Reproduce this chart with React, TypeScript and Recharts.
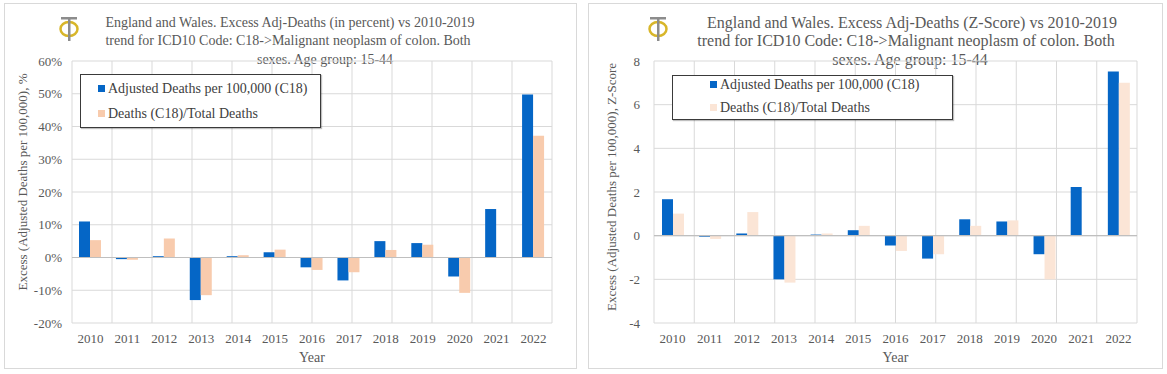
import React from "react";
import { BarChart, Bar, XAxis, YAxis, CartesianGrid, Legend, ReferenceLine } from "recharts";

const FONT = '"Liberation Serif", "DejaVu Serif", serif';
const TEXT = "#595959";

const years = ["2010", "2011", "2012", "2013", "2014", "2015", "2016", "2017", "2018", "2019", "2020", "2021", "2022"];
// excess in percent
const pctAdjusted = [11, -0.5, 0.4, -13, 0.4, 1.6, -3, -7, 5, 4.4, -5.8, 14.8, 49.8];
const pctRatio = [5.3, -0.7, 5.8, -11.5, 0.7, 2.4, -3.8, -4.5, 2.3, 3.9, -10.8, 0, 37.2];
// excess as z-score
const zAdjusted = [1.67, -0.05, 0.1, -2.0, 0.05, 0.25, -0.45, -1.05, 0.75, 0.65, -0.85, 2.23, 7.52];
const zRatio = [1.01, -0.15, 1.08, -2.15, 0.1, 0.45, -0.7, -0.85, 0.45, 0.7, -2.0, 0, 7.0];

const pctTicks = [-20, -10, 0, 10, 20, 30, 40, 50, 60];
const zTicks = [-4, -2, 0, 2, 4, 6, 8];

const seriesNames = ["Adjusted Deaths per 100,000 (C18)", "Deaths (C18)/Total Deaths"];
const BLUE = "#0566c6";

const gridTicks = Array.from({ length: years.length + 1 }, (_, i) => i);

function Logo({ x, y }: { x: number; y: number }) {
  return (
    <svg style={{ position: "absolute", left: x, top: y }} width={24} height={28}>
      <ellipse cx={11} cy={14} rx={8.5} ry={7} fill="none" stroke="#d8b62a" strokeWidth={2.5} />
      <rect x={3} y={2} width={16} height={2.5} fill="#8c8c8c" />
      <rect x={10} y={2} width={2.5} height={24} fill="#8c8c8c" />
    </svg>
  );
}

type PanelProps = {
  left: number;
  width: number;
  frameX: number;
  frameW: number;
  ml: number;
  mr: number;
  adjusted: number[];
  ratio: number[];
  ratioColor: string;
  ticks: number[];
  fmt: (v: number) => string;
  tickMargin: number;
  yTitle: string;
  yTitleX: number;
  yTitleY: number;
  titleLines: { text: string; cx: number; cy: number }[];
  titleSize: number;
  logoX: number;
  legendBox: { left: number; top: number; width: number; height: number };
  legendRows: number[];
  swatchX: number;
  barSize: number;
};

function Panel(p: PanelProps) {
  const rows = years.map((year, i) => ({ year, adjusted: p.adjusted[i], ratio: p.ratio[i] }));
  const colors = [BLUE, p.ratioColor];
  return (
    <div style={{ position: "absolute", left: p.left, top: 0, width: p.width, height: 374, fontFamily: FONT }}>
      <div
        style={{
          position: "absolute", left: p.frameX, top: 3, width: p.frameW, height: 366,
          border: "1px solid #d9d9d9", boxSizing: "border-box",
        }}
      />
      {p.titleLines.map((l) => (
        <div
          key={l.text}
          style={{
            position: "absolute", left: l.cx - 300, width: 600, top: l.cy - 10, lineHeight: "20px",
            textAlign: "center", whiteSpace: "nowrap", fontSize: p.titleSize, color: TEXT,
          }}
        >
          {l.text}
        </div>
      ))}
      <Logo x={p.logoX} y={15} />
      <div
        style={{
          position: "absolute", left: p.yTitleX, top: p.yTitleY, whiteSpace: "nowrap", fontSize: 13,
          color: TEXT, transform: "translate(-50%, -50%) rotate(-90deg)",
        }}
      >
        {p.yTitle}
      </div>
      <div style={{ position: "absolute", left: 0, top: 0 }}>
        <BarChart
          width={p.width}
          height={374}
          data={rows}
          margin={{ top: 61, right: p.mr, bottom: 0, left: p.ml }}
          barGap={0}
          barSize={p.barSize}
        >
          <CartesianGrid stroke="#d9d9d9" xAxisId="grid" />
          <XAxis
            dataKey="year"
            interval={0}
            tickLine={false}
            axisLine={false}
            tickSize={0}
            tickMargin={11}
            height={51}
            tick={{ fontSize: 13, fill: TEXT, fontFamily: FONT }}
            label={{ value: "Year", position: "insideBottom", offset: 12, fontSize: 14, fill: TEXT, fontFamily: FONT }}
          />
          <XAxis xAxisId="grid" type="number" domain={[0, years.length]} ticks={gridTicks} allowDataOverflow hide />
          <YAxis
            width={40}
            domain={[p.ticks[0], p.ticks[p.ticks.length - 1]]}
            ticks={p.ticks}
            interval={0}
            tickFormatter={p.fmt}
            tickLine={false}
            axisLine={false}
            tickSize={0}
            tickMargin={p.tickMargin}
            tick={{ fontSize: 13, fill: TEXT, fontFamily: FONT }}
          />
          <ReferenceLine y={0} stroke="#bfbfbf" strokeWidth={1.2} />
          <Legend
            layout="vertical"
            align="center"
            verticalAlign="middle"
            wrapperStyle={{ ...p.legendBox }}
            content={() => (
              <div
                style={{
                  position: "relative", width: "100%", height: "100%", boxSizing: "border-box",
                  border: "1.5px solid #3a3a3a", background: "#fff", fontFamily: FONT,
                  boxShadow: "1px 1px 1px rgba(0,0,0,0.25)",
                }}
              >
                {seriesNames.map((name, i) => (
                  <div
                    key={name}
                    style={{
                      position: "absolute", left: p.swatchX, top: p.legendRows[i] - 9, lineHeight: "18px",
                      whiteSpace: "nowrap", fontSize: 14, color: "#404040",
                    }}
                  >
                    <span
                      style={{
                        display: "inline-block", width: 7, height: 7, background: colors[i],
                        marginRight: 3, verticalAlign: "1px",
                      }}
                    />
                    {name}
                  </div>
                ))}
              </div>
            )}
          />
          <Bar dataKey="adjusted" name={seriesNames[0]} fill={BLUE} isAnimationActive={false} />
          <Bar dataKey="ratio" name={seriesNames[1]} fill={p.ratioColor} isAnimationActive={false} />
        </BarChart>
      </div>
    </div>
  );
}

export default function App() {
  return (
    <div style={{ position: "absolute", left: 0, top: 0, width: 1167, height: 374, background: "#fff" }}>
      <Panel
        left={0}
        width={583}
        frameX={4}
        frameW={573}
        ml={32}
        mr={31}
        adjusted={pctAdjusted}
        ratio={pctRatio}
        ratioColor="#f8cbad"
        ticks={pctTicks}
        fmt={(v) => `${v}%`}
        tickMargin={10}
        yTitle="Excess (Adjusted Deaths per 100,000), %"
        yTitleX={23}
        yTitleY={182}
        titleLines={[
          { text: "England and Wales. Excess Adj-Deaths (in percent) vs 2010-2019", cx: 290, cy: 23 },
          { text: "trend for ICD10 Code: C18->Malignant neoplasm of colon. Both", cx: 288, cy: 41 },
          { text: "sexes. Age group: 15-44", cx: 325, cy: 60 },
        ]}
        titleSize={14}
        logoX={58}
        legendBox={{ left: 80, top: 74, width: 241, height: 54 }}
        legendRows={[14, 39]}
        swatchX={17}
        barSize={11}
      />
      <Panel
        left={585}
        width={582}
        frameX={3}
        frameW={575}
        ml={29}
        mr={30}
        adjusted={zAdjusted}
        ratio={zRatio}
        ratioColor="#fbe5d6"
        ticks={zTicks}
        fmt={(v) => `${v}`}
        tickMargin={14}
        yTitle="Excess (Adjusted Deaths per 100,000), Z-Score"
        yTitleX={27}
        yTitleY={187}
        titleLines={[
          { text: "England and Wales. Excess Adj-Deaths (Z-Score) vs 2010-2019", cx: 327, cy: 23 },
          { text: "trend for ICD10 Code: C18->Malignant neoplasm of colon. Both", cx: 321, cy: 41 },
          { text: "sexes. Age group: 15-44", cx: 325, cy: 60 },
        ]}
        titleSize={16}
        logoX={62}
        legendBox={{ left: 87, top: 75, width: 281, height: 45 }}
        legendRows={[9, 32]}
        swatchX={37}
        barSize={11}
      />
    </div>
  );
}
